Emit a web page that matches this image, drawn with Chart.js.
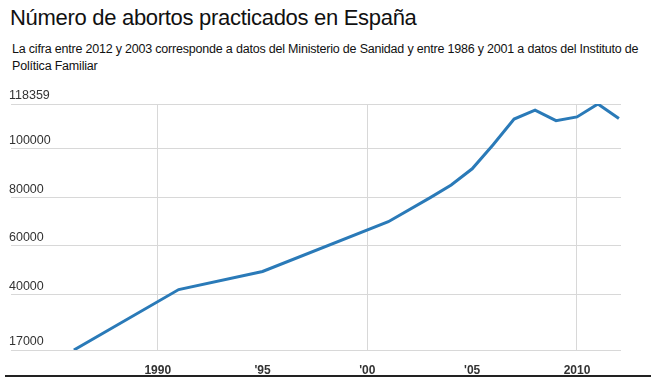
<!DOCTYPE html>
<html>
<head>
<meta charset="utf-8">
<script src="https://cdn.jsdelivr.net/npm/chart.js@4/dist/chart.umd.min.js"></script>
<style>
  html, body { margin: 0; padding: 0; background: #fff; }
  body { width: 651px; height: 377px; position: relative; overflow: hidden; font-family: "Liberation Sans", Arial, sans-serif; }
  .title { position: absolute; left: 10px; top: 7px; font-size: 22px; line-height: 22px; letter-spacing: -0.3px; color: #111; white-space: nowrap; }
  .sub { position: absolute; left: 12px; top: 41px; font-size: 12.5px; line-height: 16.5px; letter-spacing: -0.2px; color: #111; white-space: nowrap; }
  .wrap { position: absolute; left: 0; top: 0; width: 651px; height: 377px; }
  .baseline { position: absolute; left: 5px; top: 375px; width: 646px; height: 2px; background: #222; }
</style>
</head>
<body>
<div class="title">Número de abortos practicados en España</div>
<div class="sub">La cifra entre 2012 y 2003 corresponde a datos del Ministerio de Sanidad y entre 1986 y 2001 a datos del Instituto de<br>Política Familiar</div>
<div class="wrap"><canvas id="myChart"></canvas></div>
<div class="baseline"></div>
<script>
// datos
const years = [1986, 1991, 1995, 2001, 2003, 2004, 2005, 2006, 2007, 2008, 2009, 2010, 2011, 2012];
const abortos = [17000, 41910, 49367, 69857, 79788, 84985, 91664, 101592, 112138, 115812, 111482, 113031, 118359, 112390];
const yTicks = [17000, 40000, 60000, 80000, 100000, 118359];
const xTicks = [1990, 1995, 2000, 2005, 2010];
const xLabels = ['1990', "'95", "'00", "'05", '2010'];

var ctx = document.getElementById('myChart').getContext('2d');
new Chart(ctx, {
  type: 'line',
  data: {
    datasets: [{
      label: 'Abortos',
      data: years.map((y, i) => ({ x: y, y: abortos[i] })),
      borderColor: '#2a7ab8',
      borderWidth: 3,
      pointRadius: 0,
      tension: 0,
      fill: false
    }]
  },
  options: {
    responsive: true,
    maintainAspectRatio: false,
    animation: false,
    layout: { padding: { left: 11, right: 30, top: 104, bottom: 0 } },
    plugins: { legend: { display: false }, tooltip: { enabled: false } },
    scales: {
      x: {
        type: 'linear',
        min: 1983,
        max: 2012.1,
        afterBuildTicks: (scale) => { scale.ticks = xTicks.map(v => ({ value: v })); },
        afterFit: (scale) => { scale.height = 27; },
        border: { display: false },
        grid: {
          drawTicks: false,
          color: (c) => (c.tick && c.tick.value % 10 === 0) ? '#d8d8d8' : 'rgba(0,0,0,0)'
        },
        ticks: {
          padding: 13,
          color: '#333',
          font: { family: 'Liberation Sans', size: 12, weight: 'bold' },
          callback: (v) => xLabels[xTicks.indexOf(v)]
        }
      },
      y: {
        min: 17000,
        max: 118359,
        afterBuildTicks: (scale) => { scale.ticks = yTicks.map(v => ({ value: v })); },
        afterFit: (scale) => { scale.width = 0; },
        border: { display: false },
        grid: { drawTicks: false, color: '#d8d8d8' },
        ticks: {
          mirror: true,
          padding: -2,
          labelOffset: -8,
          color: '#333',
          font: { family: 'Liberation Sans', size: 12.5 },
          callback: (v) => String(v)
        }
      }
    }
  }
});
</script>
</body>
</html>
